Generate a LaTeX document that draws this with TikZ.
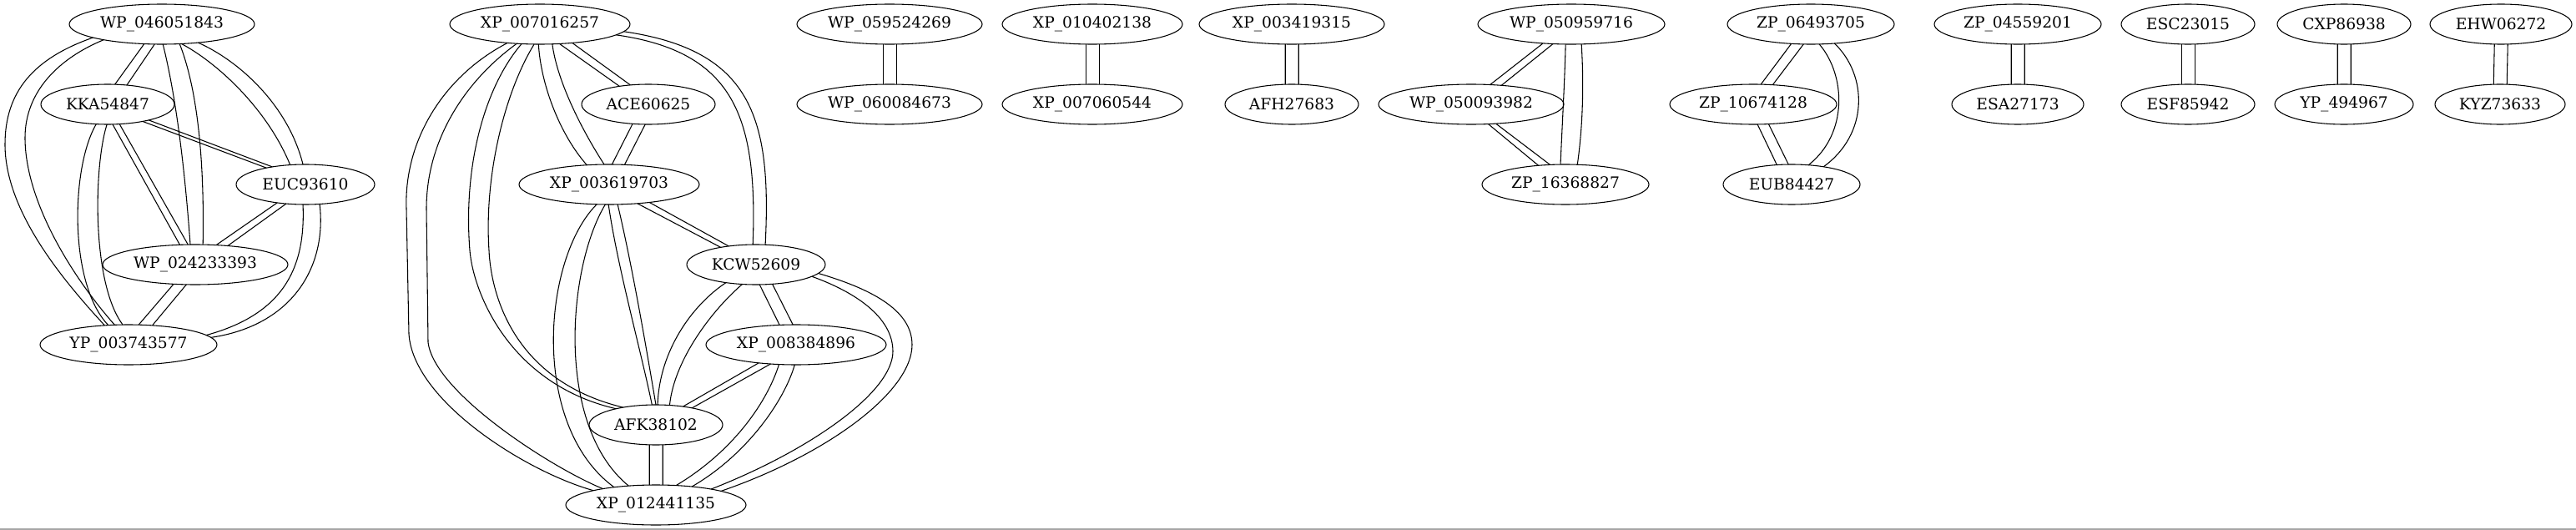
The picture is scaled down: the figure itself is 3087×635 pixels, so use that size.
\documentclass[tikz,border=0pt]{standalone}
\usepackage{fontspec}
\setmainfont{DejaVu Serif}
\usetikzlibrary{shapes.geometric}
\begin{document}
\begin{tikzpicture}[x=0.75pt,y=-0.75pt,
  nd/.style={ellipse,draw,line width=0.8pt,inner sep=0pt,outer sep=0pt,minimum height=36pt,font=\fontsize{14pt}{17pt}\selectfont},
  ed/.style={line width=0.8pt}]
\useasboundingbox (0,0) rectangle (3087,635);
% ---------- left component ----------
\node[nd,minimum width=166.5pt] (W1) at (194,29) {WP\_046051843};
\node[nd,minimum width=120pt]   (K)  at (129,125) {KKA54847};
\node[nd,minimum width=124.5pt] (E)  at (366,221) {EUC93610};
\node[nd,minimum width=166.5pt] (W2) at (234,317) {WP\_024233393};
\node[nd,minimum width=159pt]   (Y)  at (154,413) {YP\_003743577};
% ---------- middle component ----------
\node[nd,minimum width=162pt] (X1)  at (647,29)  {XP\_007016257};
\node[nd,minimum width=120pt] (A)   at (777,125) {ACE60625};
\node[nd,minimum width=162pt] (X3)  at (730,221) {XP\_003619703};
\node[nd,minimum width=124.5pt] (KC) at (906,317) {KCW52609};
\node[nd,minimum width=162pt] (X8)  at (954,413) {XP\_008384896};
\node[nd,minimum width=120pt] (AF)  at (786,509) {AFK38102};
\node[nd,minimum width=162pt] (X12) at (786,605) {XP\_012441135};
% ---------- small components ----------
\node[nd,minimum width=166.5pt] (P1) at (1066,29)  {WP\_059524269};
\node[nd,minimum width=166.5pt] (P2) at (1066,125) {WP\_060084673};
\node[nd,minimum width=162pt] (Q1) at (1309,29)  {XP\_010402138};
\node[nd,minimum width=162pt] (Q2) at (1309,125) {XP\_007060544};
\node[nd,minimum width=166.5pt] (R1) at (1548,29)  {XP\_003419315};
\node[nd,minimum width=120pt] (R2) at (1548,125) {AFH27683};
\node[nd,minimum width=168pt] (S1) at (1883,29)  {WP\_050959716};
\node[nd,minimum width=166.5pt] (S2) at (1763,125) {WP\_050093982};
\node[nd,minimum width=150pt] (S3) at (1876,221) {ZP\_16368827};
\node[nd,minimum width=150pt] (T1) at (2170,29)  {ZP\_06493705};
\node[nd,minimum width=150pt] (T2) at (2101,125) {ZP\_10674128};
\node[nd,minimum width=123pt] (T3) at (2147,221) {EUB84427};
\node[nd,minimum width=150pt] (U1) at (2418,29)  {ZP\_04559201};
\node[nd,minimum width=118.5pt] (U2) at (2418,125) {ESA27173};
\node[nd,minimum width=120pt] (V1) at (2622,29)  {ESC23015};
\node[nd,minimum width=120pt] (V2) at (2622,125) {ESF85942};
\node[nd,minimum width=120pt] (C1) at (2809,29)  {CXP86938};
\node[nd,minimum width=124.5pt] (C2) at (2809,125) {YP\_494967};
\node[nd,minimum width=127.5pt] (Z1) at (2997,29)  {EHW06272};
\node[nd,minimum width=117pt] (Z2) at (2996,125) {KYZ73633};
% ---------- left edges ----------
\draw[ed] (W1.-132.5) -- (K.70.8);
\draw[ed] (W1.-110.6) -- (K.45);
\draw[ed] (W1.-87.6) .. controls (212,120) and (222,210) .. (W2.104);
\draw[ed] (W1.-48.8) .. controls (238,110) and (245,200) .. (W2.69.4);
\draw[ed] (W1.-45) .. controls (260,75) and (320,130) .. (E.128.4);
\draw[ed] (W1.-27.1) .. controls (285,72) and (345,125) .. (E.97.1);
\draw[ed] (W1.-169.2) .. controls (40,70) and (6,110) .. (6,173) .. controls (6,250) and (70,330) .. (Y.141.6);
\draw[ed] (W1.-165.8) .. controls (70,70) and (30,110) .. (30,165) .. controls (30,240) and (85,330) .. (Y.125.3);
\draw[ed] (K.-26) -- (E.157.4);
\draw[ed] (K.-21.6) -- (E.152.9);
\draw[ed] (K.-76) -- (W2.128.4);
\draw[ed] (K.-59.7) -- (W2.110.6);
\draw[ed] (K.-120.3) .. controls (85,200) and (82,340) .. (Y.136.2);
\draw[ed] (K.-92.4) .. controls (112,200) and (110,340) .. (Y.106.3);
\draw[ed] (E.-147.1) -- (W2.43.8);
\draw[ed] (E.-135) -- (W2.30.6);
\draw[ed] (E.-97.1) .. controls (366,315) and (345,375) .. (Y.7.5);
\draw[ed] (E.-54.1) .. controls (392,320) and (350,390) .. (Y.5);
\draw[ed] (W2.-138.1) -- (Y.63.4);
\draw[ed] (W2.-114.6) -- (Y.39.4);
% ---------- middle edges ----------
\draw[ed] (X1.-45.5) -- (A.148.3);
\draw[ed] (X1.-30.6) -- (A.133.6);
\draw[ed] (X1.-94.8) .. controls (648,100) and (670,160) .. (X3.139.3);
\draw[ed] (X1.-58) .. controls (668,100) and (700,160) .. (X3.104);
\draw[ed] (A.-129.2) -- (X3.82.9);
\draw[ed] (A.-99.5) -- (X3.52.8);
\draw[ed] (X1.-5) .. controls (900,60) and (925,140) .. (KC.65.2);
\draw[ed] (X1.-8) .. controls (880,62) and (908,140) .. (KC.99.5);
\draw[ed] (X1.-133.1) .. controls (580,105) and (555,200) .. (563,300) .. controls (567,350) and (610,460) .. (AF.158);
\draw[ed] (X1.-106.3) .. controls (605,110) and (580,210) .. (586,300) .. controls (588,345) and (610,455) .. (AF.152);
\draw[ed] (X1.-150.9) .. controls (530,92) and (484,170) .. (487,250) -- (490,400) .. controls (495,480) and (630,565) .. (X12.167);
\draw[ed] (X1.-140.4) .. controls (560,95) and (511,165) .. (511,250) -- (513,410) .. controls (520,470) and (660,560) .. (X12.163.9);
\draw[ed] (X3.-34.8) -- (KC.154.5);
\draw[ed] (X3.-24.7) -- (KC.146.3);
\draw[ed] (X3.-92.4) .. controls (740,320) and (768,420) .. (AF.101.8);
\draw[ed] (X3.-67.4) .. controls (758,320) and (775,420) .. (AF.90);
\draw[ed] (X3.-122.2) .. controls (650,310) and (635,510) .. (X12.157.4);
\draw[ed] (X3.-101.8) .. controls (680,320) and (665,510) .. (X12.145.2);
\draw[ed] (KC.-149.8) .. controls (830,365) and (790,420) .. (AF.85.2);
\draw[ed] (KC.-125.9) .. controls (855,370) and (808,430) .. (AF.55.8);
\draw[ed] (KC.-80.5) -- (X8.130.3);
\draw[ed] (KC.-50.9) -- (X8.99.5);
\draw[ed] (KC.-8.4) .. controls (1040,345) and (1093,370) .. (1093,413) .. controls (1093,470) and (990,545) .. (X12.12.6);
\draw[ed] (KC.-12) .. controls (1025,350) and (1070,380) .. (1070,421) .. controls (1070,470) and (970,540) .. (X12.16.8);
\draw[ed] (X8.-154.7) -- (AF.34.5);
\draw[ed] (X8.-143.4) -- (AF.25.9);
\draw[ed] (X8.-131.8) .. controls (920,480) and (880,540) .. (X12.44.3);
\draw[ed] (X8.-94.8) .. controls (940,480) and (895,545) .. (X12.27.8);
\draw[ed] (AF.-108.4) -- (X12.108.4);
\draw[ed] (AF.-71.6) -- (X12.71.6);
% ---------- small component edges ----------
\foreach \a/\b in {P1/P2,Q1/Q2,R1/R2,U1/U2,V1/V2,C1/C2,Z1/Z2}{
  \draw[ed] (\a.-108.4) -- (\b.108.4);
  \draw[ed] (\a.-71.6) -- (\b.71.6);
}
\draw[ed] (S1.-146.9) -- (S2.46.9);
\draw[ed] (S1.-133.1) -- (S2.32.2);
\draw[ed] (S1.-106.3) .. controls (1875,100) and (1872,150) .. (S3.104);
\draw[ed] (S1.-63.4) .. controls (1898,100) and (1897,150) .. (S3.59.3);
\draw[ed] (S2.-49.7) -- (S3.145.5);
\draw[ed] (S2.-38.7) -- (S3.128.8);
\draw[ed] (T1.-135.8) -- (T2.69.4);
\draw[ed] (T1.-110.6) -- (T2.45.5);
\draw[ed] (T2.-78.2) -- (T3.127.6);
\draw[ed] (T2.-52.7) -- (T3.99.5);
\draw[ed] (T1.-67.4) .. controls (2212,90) and (2215,160) .. (T3.49.4);
\draw[ed] (T1.-39.4) .. controls (2238,90) and (2240,160) .. (T3.29.3);
% bottom rule
\fill[black!35] (0,633) rectangle (3087,635);
\end{tikzpicture}
\end{document}
